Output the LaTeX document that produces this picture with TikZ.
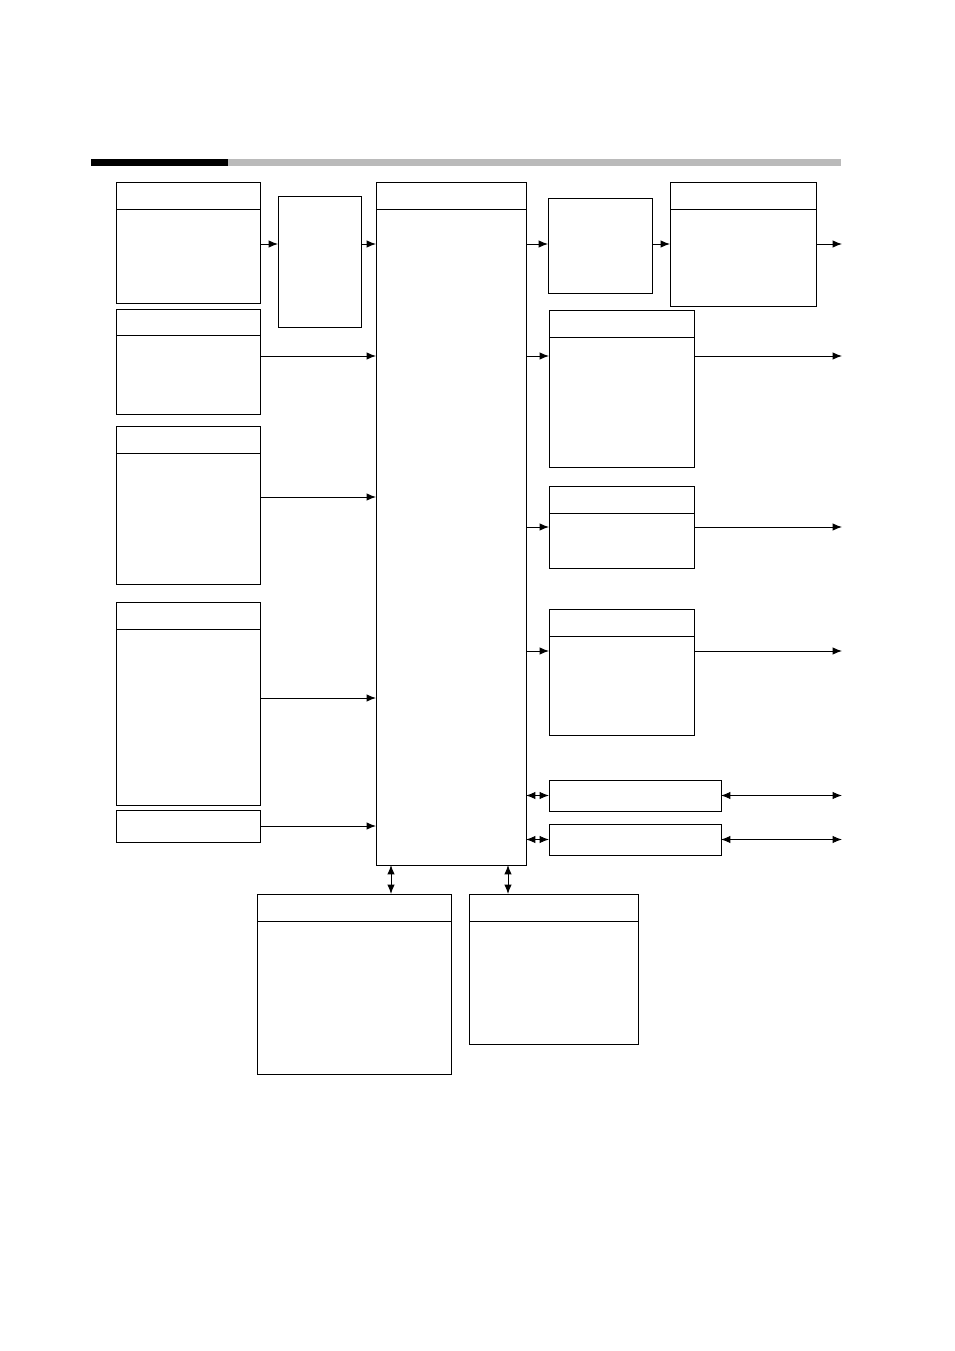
\documentclass[tikz,border=0pt]{standalone}
\usepackage{xcolor}
\usepackage{tikz}
\usetikzlibrary{arrows.meta}
\usetikzlibrary{calc}

\begin{document}
\begin{tikzpicture}[x=0.75pt,y=-0.75pt,line width=0.7pt,>={Latex[length=7pt,width=5.5pt]},
	block/.style 2 args={draw, rectangle, anchor=north west, inner sep=0pt, outer sep=0pt, minimum width=#1*0.75pt, minimum height=#2*0.75pt}]
			\useasboundingbox (0,0) rectangle (954,1351);
			% Title bar
			\fill[black!27] (228,159) rectangle (841,166);
			\fill[black] (91,159) rectangle (228,166);
			
			% Nodes
			\node[block={144}{121}] (1) at (116,182) {};
			\node[block={144}{105}] (2) at (116,309) {};
			\node[block={144}{158}] (3) at (116,426) {};
			\node[block={144}{203}] (4) at (116,602) {};
			\node[block={144}{32}] (5) at (116,810) {};
			\node[block={83}{131}] (6) at (278,196) {};
			\node[block={150}{683}] (7) at (376,182) {};
			\node[block={104}{95}] (8) at (548,198) {};
			\node[block={146}{124}] (9) at (670,182) {};
			\node[block={145}{157}] (10) at (549,310) {};
			\node[block={145}{82}] (11) at (549,486) {};
			\node[block={145}{126}] (12) at (549,609) {};
			\node[block={172}{31}] (13) at (549,780) {};
			\node[block={172}{31}] (14) at (549,824) {};
			\node[block={194}{180}] (15) at (257,894) {};
			\node[block={169}{150}] (16) at (469,894) {};
			
			% Header lines
			\foreach \n/\h in {1/27,2/26,3/27,4/27,7/27,9/27,10/27,11/27,12/27,15/27,16/27}
				\draw ($(\n.north west)+(0,\h)$) -- ($(\n.north east)+(0,\h)$);
			
			% Free ends
			\coordinate (o1) at (842,244);
			\coordinate (o2) at (842,356);
			\coordinate (o3) at (842,527);
			\coordinate (o4) at (842,651);
			\coordinate (o5) at (842,795.5);
			\coordinate (o6) at (842,839.5);
			
			\path[->]
			($(1.north east)+(0,62)$) edge ($(6.north west)+(0,48)$)
			($(6.north east)+(0,48)$) edge ($(7.north west)+(0,62)$)
			($(2.north east)+(0,47)$) edge ($(7.north west)+(0,174)$)
			($(3.north east)+(0,71)$) edge ($(7.north west)+(0,315)$)
			($(4.north east)+(0,96)$) edge ($(7.north west)+(0,516)$)
			($(5.north east)+(0,16)$) edge ($(7.north west)+(0,644)$)
			
			($(7.north east)+(0,62)$) edge ($(8.north west)+(0,46)$)
			($(8.north east)+(0,46)$) edge ($(9.north west)+(0,62)$)
			($(9.north east)+(0,62)$) edge (o1)
			($(7.north east)+(0,174)$) edge ($(10.north west)+(0,46)$)
			($(10.north east)+(0,46)$) edge (o2)
			($(7.north east)+(0,345)$) edge ($(11.north west)+(0,41)$)
			($(11.north east)+(0,41)$) edge (o3)
			($(7.north east)+(0,469)$) edge ($(12.north west)+(0,42)$)
			($(12.north east)+(0,42)$) edge (o4);
			
			\path[<->]
			(7.east |- 13.west) edge (13.west)
			(13.east) edge (o5)
			(7.east |- 14.west) edge (14.west)
			(14.east) edge (o6)
			($(7.south west)+(15,0)$) edge ($(15.north west)+(134,0)$)
			($(7.south west)+(132,0)$) edge ($(16.north west)+(39,0)$);
			
		\end{tikzpicture}
\end{document}
